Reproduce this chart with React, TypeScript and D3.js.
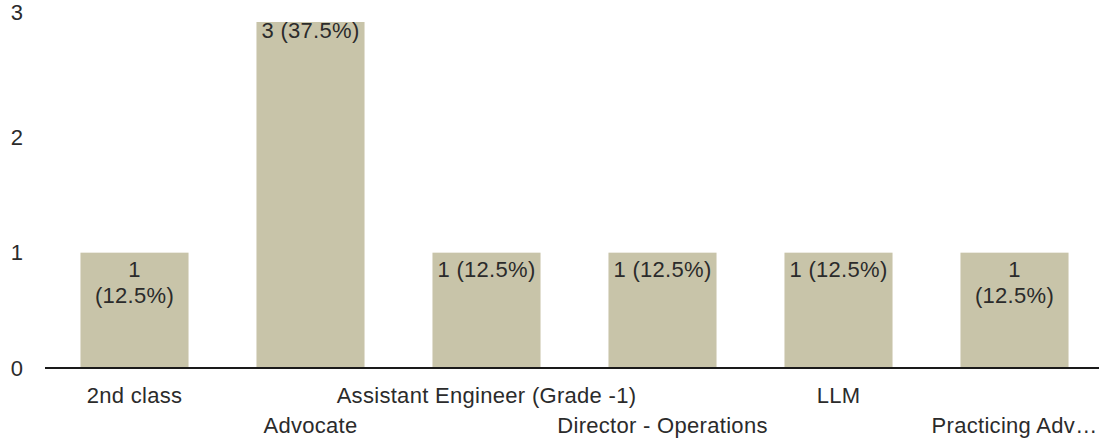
import React, { useEffect, useRef } from "react";
import * as d3 from "d3";

const categories = [
  "2nd class",
  "Advocate",
  "Assistant Engineer (Grade -1)",
  "Director - Operations",
  "LLM",
  "Practicing Adv\u2026",
];
const counts = [1, 3, 1, 1, 1, 1];
const valueLabels = [
  ["1", "(12.5%)"],
  ["3 (37.5%)"],
  ["1 (12.5%)"],
  ["1 (12.5%)"],
  ["1 (12.5%)"],
  ["1", "(12.5%)"],
];
const yTicks = [0, 1, 2, 3];

const W = 1099;
const H = 443;
const FONT = "'Liberation Sans', Arial, sans-serif";
const FS = 22;
const LS = 0.3;
const TXT = "#2b2b2b";

export default function App() {
  const ref = useRef<SVGSVGElement | null>(null);

  useEffect(() => {
    document.body.style.margin = "0";
    const svg = d3.select(ref.current!);
    svg.selectAll("*").remove();

    const x = d3
      .scaleBand<string>()
      .domain(categories)
      .range([46.5, 1102.5])
      .paddingInner(0.386)
      .paddingOuter(0.193);
    const y = d3.scaleLinear().domain([0, 3]).range([368, 22]);

    const g = svg.append("g");

    // bars
    g.selectAll("rect.bar")
      .data(categories)
      .enter()
      .append("rect")
      .attr("class", "bar")
      .attr("x", (d) => x(d)!)
      .attr("width", x.bandwidth())
      .attr("y", (_, i) => y(counts[i]))
      .attr("height", (_, i) => y(0) - y(counts[i]))
      .attr("fill", "#c8c4a9");

    // value labels
    categories.forEach((c, i) => {
      const cx = x(c)! + x.bandwidth() / 2;
      const top = y(counts[i]);
      const base = top + (counts[i] === d3.max(counts) ? 16 : 24);
      const t = g
        .append("text")
        .attr("x", cx)
        .attr("y", base)
        .attr("text-anchor", "middle")
        .attr("font-family", FONT)
        .attr("font-size", FS)
        .attr("letter-spacing", LS)
        .attr("fill", TXT);
      valueLabels[i].forEach((line, j) => {
        t.append("tspan")
          .attr("x", cx)
          .attr("dy", j === 0 ? 0 : 26)
          .text(line);
      });
    });

    // baseline axis
    g.append("line")
      .attr("x1", 45)
      .attr("x2", W)
      .attr("y1", y(0))
      .attr("y2", y(0))
      .attr("stroke", "#1a1a1a")
      .attr("stroke-width", 2);

    // y tick labels
    g.selectAll("text.ytick")
      .data(yTicks)
      .enter()
      .append("text")
      .attr("class", "ytick")
      .attr("x", 23)
      .attr("y", (d) => y(d) + (d === d3.max(yTicks) ? -10 : 0))
      .attr("dy", "0.35em")
      .attr("text-anchor", "end")
      .attr("font-family", FONT)
      .attr("font-size", FS)
      .attr("fill", TXT)
      .text((d) => String(d));

    // x category labels (staggered)
    g.selectAll("text.xlab")
      .data(categories)
      .enter()
      .append("text")
      .attr("class", "xlab")
      .attr("x", (d) => x(d)! + x.bandwidth() / 2)
      .attr("y", (_, i) => y(0) + (i % 2 === 0 ? 35 : 65))
      .attr("text-anchor", "middle")
      .attr("font-family", FONT)
      .attr("font-size", FS)
      .attr("letter-spacing", LS)
      .attr("fill", TXT)
      .text((d) => d);
  }, []);

  return (
    <svg
      ref={ref}
      width={W}
      height={H}
      style={{ position: "absolute", left: 0, top: 0, background: "#fff" }}
    />
  );
}
